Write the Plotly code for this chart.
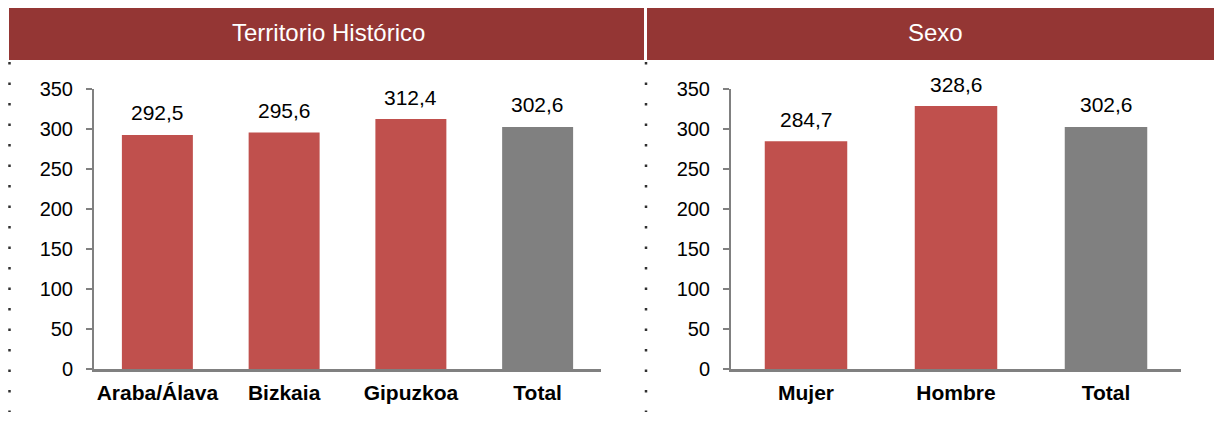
import plotly.graph_objects as go

# datos
territorios = ["Araba/Álava", "Bizkaia", "Gipuzkoa", "Total"]
valores_territorio = [292.5, 295.6, 312.4, 302.6]
sexos = ["Mujer", "Hombre", "Total"]
valores_sexo = [284.7, 328.6, 302.6]
paneles = ["Territorio Histórico", "Sexo"]
y_ticks = [0, 50, 100, 150, 200, 250, 300, 350]

ROJO = "#C0504D"
GRIS = "#808080"
GRANATE = "#943634"
W, H = 1222, 425
OFF = 8  # margen del body de la pagina
FONT = "Liberation Sans, Arial, sans-serif"


def colores(cats):
    return [GRIS if c == "Total" else ROJO for c in cats]


def px(x):
    return (x - OFF) / W


def py(y):
    return (H - (y - OFF)) / H


fig = go.Figure()
fig.add_trace(go.Bar(x=territorios, y=valores_territorio, marker_color=colores(territorios),
                     marker_line_width=0, width=0.56, xaxis="x", yaxis="y"))
fig.add_trace(go.Bar(x=sexos, y=valores_sexo, marker_color=colores(sexos),
                     marker_line_width=0, width=0.55, xaxis="x2", yaxis="y2"))

# etiquetas de valor
for cats, vals, xr, yr in [(territorios, valores_territorio, "x", "y"), (sexos, valores_sexo, "x2", "y2")]:
    for c, v in zip(cats, vals):
        fig.add_annotation(x=c, y=v, xref=xr, yref=yr, text=f"{v:.1f}".replace(".", ","),
                           showarrow=False, yanchor="middle", xanchor="center", yshift=22,
                           font=dict(size=21, color="black"))

yaxis_style = dict(range=[0, 350], tickvals=y_ticks, showgrid=False, zeroline=False,
                   showline=True, linecolor=GRIS, linewidth=2, ticks="outside",
                   ticklen=6, tickcolor=GRIS, tickwidth=2, ticklabelstandoff=9,
                   automargin=False, tickfont=dict(size=20, color="black"),
                   domain=[py(369), py(89)])
xaxis_style = dict(showgrid=False, zeroline=False, showline=True, linecolor=GRIS,
                   linewidth=3, ticks="", ticklabelstandoff=3, automargin=False,
                   tickfont=dict(size=21, color="black"))

fig.update_layout(
    width=W, height=H, margin=dict(l=0, r=0, t=0, b=0, autoexpand=False),
    paper_bgcolor="white", plot_bgcolor="white", showlegend=False,
    separators=",.", font=dict(family=FONT),
    xaxis=dict(xaxis_style, domain=[px(94), px(601)], anchor="y",
               tickvals=territorios, ticktext=["<b>%s</b>" % t for t in territorios]),
    yaxis=dict(yaxis_style, anchor="x"),
    xaxis2=dict(xaxis_style, domain=[px(731), px(1181)], anchor="y2",
                tickvals=sexos, ticktext=["<b>%s</b>" % t for t in sexos]),
    yaxis2=dict(yaxis_style, anchor="x2"),
)

# cabeceras
for (x0, x1), titulo in zip([(9, 644), (647, W + OFF)], paneles):
    fig.add_shape(type="rect", xref="paper", yref="paper", x0=px(x0), x1=px(x1),
                  y0=py(60), y1=py(7), fillcolor=GRANATE, line_width=0, layer="below")
    fig.add_annotation(text=titulo, xref="paper", yref="paper",
                       x=px(328 if titulo != "Sexo" else 935),
                       y=py(32), xanchor="center", yanchor="middle", showarrow=False,
                       font=dict(size=24, color="white"))

# lineas punteadas
for xl in [9.5, 646]:
    fig.add_shape(type="line", xref="paper", yref="paper", x0=px(xl), x1=px(xl),
                  y0=py(62), y1=py(412), line=dict(color="#303030", width=2.5, dash="2.5px,18px"))

fig.write_html("out.html")
